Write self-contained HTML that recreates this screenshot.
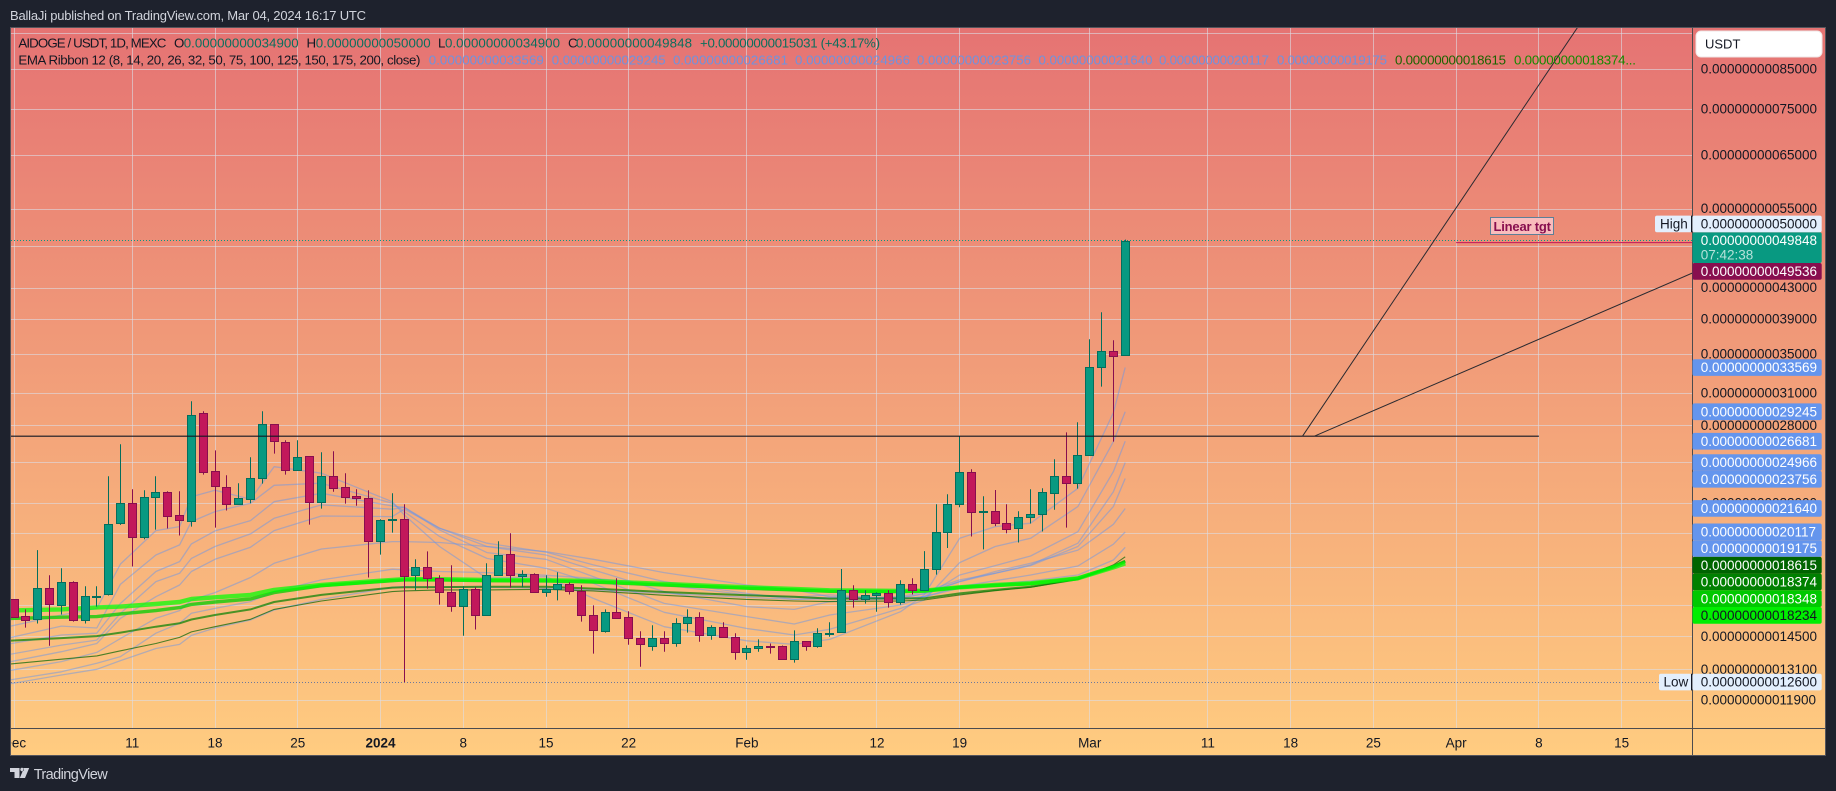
<!DOCTYPE html>
<html lang="en">
<head>
<meta charset="utf-8">
<title>AIDOGE / USDT chart</title>
<style>
html,body{margin:0;padding:0;background:#1e222d;width:1836px;height:791px;overflow:hidden}
svg{display:block}
text{font-family:"Liberation Sans",sans-serif}
</style>
</head>
<body>
<svg id="root" xmlns="http://www.w3.org/2000/svg" width="1836" height="791" viewBox="0 0 1836 791">
  <defs>
    <linearGradient id="bgGrad" x1="0" y1="0" x2="0" y2="1">
      <stop offset="0" stop-color="#e57373"/>
      <stop offset="1" stop-color="#ffcc80"/>
    </linearGradient>
    <clipPath id="paneClip"><rect x="11" y="28" width="1681" height="700"/></clipPath>
    <clipPath id="timeClip"><rect x="11" y="729" width="1681" height="26"/></clipPath>
  </defs>
  <rect x="0" y="0" width="1836" height="791" fill="#1e222d"/>
  <text x="10" y="20.2" font-size="13" fill="#d1d4dc" textLength="356">BallaJi published on TradingView.com, Mar 04, 2024 16:17 UTC</text>
  <rect x="10.5" y="27.5" width="1815" height="728" fill="url(#bgGrad)" stroke="#55555c" stroke-width="1"/>
  <g id="grid"></g>
  <g id="pane" clip-path="url(#paneClip)"></g>
  <line x1="11" y1="728.5" x2="1825" y2="728.5" stroke="#4b4b4e" stroke-width="1"/>
  <line x1="1692.5" y1="28" x2="1692.5" y2="755" stroke="#4b4b4e" stroke-width="1"/>
  <g id="timeAxis" clip-path="url(#timeClip)"></g>
  <g id="priceAxis"></g>
  <g id="tags"></g>

  <g>
    <rect x="1490.5" y="217.5" width="63" height="17" fill="#f9bcbc" stroke="#5d7f97" stroke-width="1"/>
    <text x="1493.5" y="231" font-size="13" font-weight="bold" fill="#880e4f" textLength="57.5">Linear tgt</text>
  </g>

  <g font-size="13.3">
    <text x="18.4" y="47.4" fill="#131722" textLength="148">AIDOGE / USDT, 1D, MEXC</text>
    <text x="174" y="47.4" fill="#131722">O</text>
    <text x="183.7" y="47.4" fill="#0b6f5d" textLength="115">0.00000000034900</text>
    <text x="306.5" y="47.4" fill="#131722">H</text>
    <text x="315.7" y="47.4" fill="#0b6f5d" textLength="115">0.00000000050000</text>
    <text x="438" y="47.4" fill="#131722">L</text>
    <text x="445" y="47.4" fill="#0b6f5d" textLength="115">0.00000000034900</text>
    <text x="568" y="47.4" fill="#131722">C</text>
    <text x="576" y="47.4" fill="#0b6f5d" textLength="116">0.00000000049848</text>
    <text x="700" y="47.4" fill="#0b6f5d" textLength="180">+0.00000000015031 (+43.17%)</text>
    <text x="18.4" y="64.4" fill="#131722" textLength="402">EMA Ribbon 12 (8, 14, 20, 26, 32, 50, 75, 100, 125, 150, 175, 200, close)</text>
    <text x="428.8" y="64.4" fill="#6d93e0" textLength="115">0.00000000033569</text>
    <text x="551.7" y="64.4" fill="#6d93e0" textLength="114">0.00000000029245</text>
    <text x="673" y="64.4" fill="#6d93e0" textLength="115">0.00000000026681</text>
    <text x="795" y="64.4" fill="#6d93e0" textLength="115">0.00000000024966</text>
    <text x="917" y="64.4" fill="#6d93e0" textLength="114">0.00000000023756</text>
    <text x="1038.5" y="64.4" fill="#6d93e0" textLength="114">0.00000000021640</text>
    <text x="1159" y="64.4" fill="#6d93e0" textLength="110">0.00000000020117</text>
    <text x="1277" y="64.4" fill="#6d93e0" textLength="110">0.00000000019175</text>
    <text x="1395" y="64.4" fill="#1a6400" textLength="111">0.00000000018615</text>
    <text x="1514" y="64.4" fill="#128a00" textLength="122">0.00000000018374...</text>
  </g>

  <g>
    <rect x="1696" y="31" width="126" height="26" rx="5" fill="#ffffff" stroke="#efe6e6" stroke-width="1"/>
    <text x="1705" y="48.4" font-size="13" fill="#131722">USDT</text>
  </g>

  <g>
    <path d="M10 768h9.5v10h-5v-6H10zM21.5 771.2a1.8 1.8 0 1 0 0-3.4 1.8 1.8 0 0 0 0 3.4zM24 768h5.2l-4.2 10h-5.2z" fill="#d1d4dc"/>
    <text x="33.7" y="779" font-size="14.5" fill="#d1d4dc" textLength="74">TradingView</text>
  </g>
</svg>
<script>
// ---------- chart data (prices are the last digits of 0.00000000xxxxxx) ----------
const candleDays = [-10,-9,-8,-7,-6,-5,-4,-3,-2,-1,0,1,2,3,4,5,6,7,8,9,10,11,12,13,14,15,16,17,18,19,20,21,22,23,24,25,26,27,28,29,30,31,32,33,34,35,36,37,38,39,40,41,42,43,44,45,46,47,48,49,50,51,52,53,54,55,56,57,58,59,60,61,62,63,64,65,66,67,68,69,70,71,72,73,74,75,76,77,78,79,80,81,82,83,84];
const opens = [16310,15470,15320,16880,16000,17200,15270,16450,16570,20670,21990,19790,22410,22760,21190,20800,29110,24300,23110,21920,22270,23780,28130,26600,24380,25460,22060,23920,23120,22480,22340,19540,20870,20920,17580,18020,17410,16670,15950,16830,15510,17580,18760,17520,17630,16670,16830,17090,16720,15510,14760,15660,15420,14440,14120,14440,14210,15130,15420,14580,14950,14480,13820,13990,14090,14080,13530,14300,14120,14670,14710,16770,16300,16510,16620,16150,17090,16770,17910,20100,21920,24220,21440,21450,20670,20350,21050,21250,22690,23920,23410,25540,33600,35310,34900];
const highs = [16310,15800,19010,17580,17960,17250,16980,16980,23920,26430,22970,22900,23920,22830,22830,30220,29290,25930,24000,23410,25380,29290,28130,26760,26760,25460,25780,25860,24150,22970,22900,20920,22690,21930,18470,18930,17580,18130,16980,16930,18240,19540,20030,17850,17690,17580,17740,17200,17040,16000,15800,17410,15710,14760,15040,14760,15370,15800,15660,15040,15180,14670,14120,14390,14210,14120,14800,14300,14900,15180,17920,17040,16770,16670,16770,17300,17410,18950,21930,22620,27100,24450,22480,22920,21920,21450,22970,23040,25220,27430,28300,36650,39870,36540,50000];
const lows = [15450,14930,15120,14110,15550,15210,15120,15940,16500,20560,18060,19660,20260,20330,19890,20450,24050,20390,21500,21920,21990,23380,25670,24050,24380,20580,21630,22800,21970,21830,17450,18740,20070,12600,16770,16860,16040,15690,14560,14840,15510,17580,16910,16930,16670,16440,16250,16550,15210,13770,14700,15370,14150,13220,13890,13850,14070,14700,14290,14380,14480,13510,13510,13850,13770,13530,13390,13890,14020,14510,14710,15890,16090,15690,15890,16040,16550,16770,17610,19130,21720,19830,19050,20480,20030,19460,20650,20140,21560,20390,23020,25540,31630,26650,34900];
const closes = [15450,15300,16880,16050,17200,15270,16460,16470,20600,21990,19790,22410,22760,21120,20860,28930,24220,23190,21920,22340,23780,28130,26680,24380,25380,22060,23920,23040,22410,22340,19540,20860,20920,17520,18020,17410,16670,15950,16830,15510,17580,18700,17580,17630,16670,16830,17090,16720,15510,14800,15660,15370,14440,14170,14440,14210,15130,15420,14580,14950,14480,13820,13990,14120,14070,13530,14300,14110,14670,14700,16770,16300,16510,16620,16150,17090,16770,17910,20100,21920,24220,21390,21470,20670,20280,21050,21250,22760,23920,23410,25540,33600,35310,34820,49848];

const emaDays = [-11,-6,-3,-1,2,4,5,7,10,12,16,22,23,26,30,35,39,45,52,56,59,65,67,70,73,76,80,83,84];
const ema8 = [14910,15530,15850,18200,20200,20450,22450,22900,22270,24650,24150,22100,21210,19220,17410,17500,16350,14970,14330,14170,14390,15690,16530,19720,20450,20670,23040,29170,33569];
const ema14 = [14390,15000,14910,17090,18720,19320,20770,21430,21990,23260,23410,21990,21430,19830,18520,17960,17140,15660,14890,14590,14850,15850,16270,18280,19220,19720,21770,26650,29245];
const ema20 = [14140,14590,14670,16100,17780,18340,19380,20180,20840,22100,22690,21810,21720,20240,18860,18470,17500,16100,15450,15100,15530,16020,16440,17590,18110,18660,20130,24270,26681];
const ema26 = [13680,14140,14360,15610,17230,17680,18520,19220,19990,20990,21880,21590,21720,20350,19220,18720,17870,16700,15940,15800,16190,16350,16610,17230,17680,18150,19420,22800,24966];
const ema32 = [13360,13850,14210,15370,16440,17050,17780,18470,19180,20200,21140,21100,21590,20350,19420,18890,18150,17230,16610,16300,16320,16440,16700,17320,17680,18110,19220,21770,23756];
const ema50 = [13010,13430,13820,14430,15370,15740,16270,16650,17450,18240,19070,19520,19520,19460,19220,18920,18470,17720,17050,16790,16440,16390,16580,17230,17780,18240,19010,20600,21640];
const ema75 = [12640,13010,13360,13640,14670,15130,15610,15850,16190,16700,17320,17910,17870,17780,17720,17570,17410,17050,16530,16410,16530,16300,16440,16960,17280,17590,18090,19360,20117];
const ema100 = [12480,12880,13110,13470,13990,14170,14570,14910,15290,15770,16300,16930,16960,16940,16930,16880,16790,16610,16410,16300,16410,16300,16440,16880,17090,17270,17590,18430,19175];
const ema125 = [13300,13530,13670,13890,14210,14480,14730,14970,15320,15800,16220,16700,16740,16790,16790,16820,16740,16510,16300,16220,16190,16220,16270,16530,16750,16930,17360,18150,18615];
const ema150 = [14320,14450,14540,14700,14970,15130,15310,15530,15800,16170,16530,16910,16930,16940,16960,16960,16860,16680,16510,16440,16340,16350,16350,16610,16790,16960,17360,18090,18374];
const ema175 = [15350,15420,15450,15580,15740,15890,16050,16170,16320,16650,17010,17280,17320,17320,17280,17270,17210,17050,16880,16790,16720,16700,16740,16930,17030,17120,17410,18050,18348];
const ema200 = [15740,15800,15900,15940,16070,16170,16320,16410,16530,16790,17050,17320,17360,17360,17320,17300,17270,17100,16930,16840,16770,16740,16750,16930,17050,17140,17410,18010,18234];

const gridPrices = [95000,85000,75000,65000,55000,49000,43000,39000,35000,31000,28000,25000,22000,20000,18000,16000,14500,13100,11900];
const axisTickLabels = ['0.00000000085000','0.00000000075000','0.00000000065000','0.00000000055000','0.00000000043000','0.00000000039000','0.00000000035000','0.00000000031000','0.00000000028000','0.00000000022000','0.00000000014500','0.00000000013100','0.00000000011900'];
const timeTickDays = [-10,0,7,14,21,28,35,42,52,63,70,81,91,98,105,112,119,126];
const timeTickLabels = ['Dec','11','18','25','2024','8','15','22','Feb','12','19','Mar','11','18','25','Apr','8','15'];

const blueTagLabels = ['0.00000000033569','0.00000000029245','0.00000000026681','0.00000000024966','0.00000000023756','0.00000000021640','0.00000000020117','0.00000000019175'];
const greenTagLabels = ['0.00000000018615','0.00000000018374','0.00000000018348','0.00000000018234'];
const currentPriceLabel = '0.00000000049848';
const countdownLabel = '07:42:38';
const highLabel = '0.00000000050000';
const lowLabel = '0.00000000012600';
const targetLabel = '0.00000000049536';

const levelPrice = 27100;
const levelDays = [-12,119];
const steepTrendDays = [99,122.3];
const steepTrendPrices = [27100,96990];
const slowTrendDays = [100,132];
const slowTrendPrices = [27100,45070];
const targetDays = [112,140];

// ---------- scales ----------
const PANE_LEFT = 11, PANE_RIGHT = 1692;
function xScale(day){ return 132.3 + 11.82 * day; }
function yScale(price){ return 69.3 + 321 * Math.log(85000 / price); }
function snap(v){ return Math.floor(v) + 0.5; }
function labelValue(label){ return Number(label.slice(2)); }

const NS = 'http://www.w3.org/2000/svg';
function mk(tag, parent, attrs, txt){
  const el = document.createElementNS(NS, tag);
  for (const k in attrs) el.setAttribute(k, attrs[k]);
  if (txt !== undefined) el.textContent = txt;
  parent.appendChild(el);
  return el;
}
const grid = document.getElementById('grid');
const pane = document.getElementById('pane');
const timeAxis = document.getElementById('timeAxis');
const priceAxis = document.getElementById('priceAxis');
const tags = document.getElementById('tags');

// ---------- grid ----------
gridPrices.forEach(function(p){
  const y = snap(yScale(p));
  const el = mk('line', grid, {x1:PANE_LEFT, x2:PANE_RIGHT, y1:y, y2:y, stroke:'#dcdce4', 'stroke-opacity':0.6, 'stroke-width':1});
  
  
});
timeTickDays.forEach(function(d){
  const x = snap(xScale(d));
  const el = mk('line', grid, {x1:x, x2:x, y1:28, y2:728, stroke:'#dcdce4', 'stroke-opacity':0.6, 'stroke-width':1});
  
  
});

// ---------- reference lines ----------
function dotted(price, color, name){
  const y = snap(yScale(price));
  const el = mk('line', pane, {x1:PANE_LEFT, x2:PANE_RIGHT, y1:y, y2:y, stroke:color, 'stroke-width':1, 'stroke-dasharray':'1 2'});
  
  
}
dotted(labelValue(lowLabel), '#6d7a9c', 'low-price-line');
dotted(labelValue(currentPriceLabel), '#089981', 'current-price-line');

// ---------- EMA ribbon ----------
function drawEma(values, color, width, opacity){
  const d = values.map(function(v, i){
    return (i ? 'L' : 'M') + xScale(emaDays[i]).toFixed(1) + ' ' + yScale(v).toFixed(1);
  }).join('');
  const el = mk('path', pane, {d:d, fill:'none', stroke:color, 'stroke-width':width, 'stroke-opacity':opacity, 'stroke-linejoin':'round'});
  
  
}
[ema8, ema14, ema20, ema26, ema32, ema50, ema75, ema100].forEach(function(series){
  drawEma(series, '#6495ed', 1.3, 0.48);
});
drawEma(ema125, '#006400', 1.1, 0.7);
drawEma(ema150, '#008000', 2, 0.7);
drawEma(ema175, '#00cd00', 3.4, 0.75);
drawEma(ema200, '#00ff00', 4.4, 0.72);

// ---------- candles ----------
candleDays.forEach(function(day, i){
  const up = closes[i] >= opens[i];
  const cx = snap(xScale(day));
  const fill = up ? '#089981' : '#c2185b';
  const edge = up ? '#056e5c' : '#880e4f';
  const top = Math.round(yScale(Math.max(opens[i], closes[i]))) + 0.5;
  const bottom = Math.round(yScale(Math.min(opens[i], closes[i]))) + 0.5;
  const wick = mk('line', pane, {x1:cx, x2:cx, y1:yScale(highs[i]).toFixed(1), y2:yScale(lows[i]).toFixed(1), stroke:edge, 'stroke-width':1});
  
  
  const body = mk('rect', pane, {x:cx - 4, y:top, width:8, height:Math.max(bottom - top, 1), fill:fill, stroke:edge, 'stroke-width':1});
  
  
});

// ---------- drawings ----------
function drawSegment(d0, d1, p0, p1, color, width, name){
  const el = mk('line', pane, {x1:xScale(d0).toFixed(1), y1:yScale(p0).toFixed(1), x2:xScale(d1).toFixed(1), y2:yScale(p1).toFixed(1), stroke:color, 'stroke-width':width});
  
  
}
drawSegment(levelDays[0], levelDays[1], levelPrice, levelPrice, '#131722', 1.2, 'horizontal-level-line');
drawSegment(steepTrendDays[0], steepTrendDays[1], steepTrendPrices[0], steepTrendPrices[1], '#2a2a30', 1, 'steep-trend-line');
drawSegment(slowTrendDays[0], slowTrendDays[1], slowTrendPrices[0], slowTrendPrices[1], '#2a2a30', 1, 'slow-trend-line');
drawSegment(targetDays[0], targetDays[1], labelValue(targetLabel), labelValue(targetLabel), '#c2185b', 1, 'linear-target-line');

// ---------- time axis ----------
timeTickLabels.forEach(function(label, i){
  const attrs = {x:xScale(timeTickDays[i]).toFixed(1), y:747.4, 'font-size':13.5, fill:'#131722', 'text-anchor':'middle'};
  if (label === '2024') attrs['font-weight'] = 'bold';
  const el = mk('text', timeAxis, attrs, label);
  
  
});

// ---------- price axis labels ----------
axisTickLabels.forEach(function(label){
  const y = yScale(labelValue(label));
  const el = mk('text', priceAxis, {x:1700.7, y:(y + 4.2).toFixed(1), 'font-size':13.5, fill:'#131722'}, label);
  
  
});

// ---------- price tags, stacked so they never overlap ----------
const TAG_H = 16.7, TAG_LEFT = 1692.5, TAG_W = 129.2;
function drawTag(cy, h, bg, fg, label){
  const box = mk('rect', tags, {x:TAG_LEFT, y:(cy - TAG_H / 2).toFixed(1), width:TAG_W, height:h, rx:2, fill:bg});
  
  
  const text = mk('text', tags, {x:1700.7, y:(cy + 4.6).toFixed(1), 'font-size':13.5, fill:fg}, label);
  
  
}
function sideLabel(cy, boxLeft, textX, label){
  const box = mk('rect', tags, {x:boxLeft, y:(cy - TAG_H / 2).toFixed(1), width:1692 - boxLeft, height:TAG_H, rx:2, fill:'#e3effd'});
  
  
  const bar = mk('line', tags, {x1:1691.5, x2:1691.5, y1:(cy - TAG_H / 2).toFixed(1), y2:(cy + TAG_H / 2).toFixed(1), stroke:'#131722', 'stroke-width':1});
  
  
  const text = mk('text', tags, {x:textX, y:(cy + 4.6).toFixed(1), 'font-size':13.5, fill:'#131722'}, label);
  
  
}

const currentY = yScale(labelValue(currentPriceLabel));
const currentH = 30.7;
drawTag(currentY, currentH, '#089981', '#ffffff', currentPriceLabel);
const countdown = mk('text', tags, {x:1700.7, y:(currentY + 18.8).toFixed(1), 'font-size':13.5, fill:'#ffffff', 'fill-opacity':0.7}, countdownLabel);



const highY = Math.min(yScale(labelValue(highLabel)), currentY - TAG_H);
drawTag(highY, TAG_H, '#e3effd', '#131722', highLabel);
sideLabel(highY, 1655, 1660, 'High');

let cursor = currentY - TAG_H / 2 + currentH;
function stackTag(label, bg, fg){
  const cy = Math.max(yScale(labelValue(label)), cursor + TAG_H / 2);
  drawTag(cy, TAG_H, bg, fg, label);
  cursor = cy + TAG_H / 2;
}
stackTag(targetLabel, '#880e4f', '#ffffff');
blueTagLabels.forEach(function(label){ stackTag(label, '#6495ed', '#ffffff'); });
stackTag(greenTagLabels[0], '#006400', '#ffffff');
stackTag(greenTagLabels[1], '#008000', '#ffffff');
stackTag(greenTagLabels[2], '#00c800', '#ffffff');
stackTag(greenTagLabels[3], '#00ee00', '#131722');

const lowY = yScale(labelValue(lowLabel));
drawTag(lowY, TAG_H, '#e3effd', '#131722', lowLabel);
sideLabel(lowY, 1659, 1663.5, 'Low');
</script>
</body>
</html>
